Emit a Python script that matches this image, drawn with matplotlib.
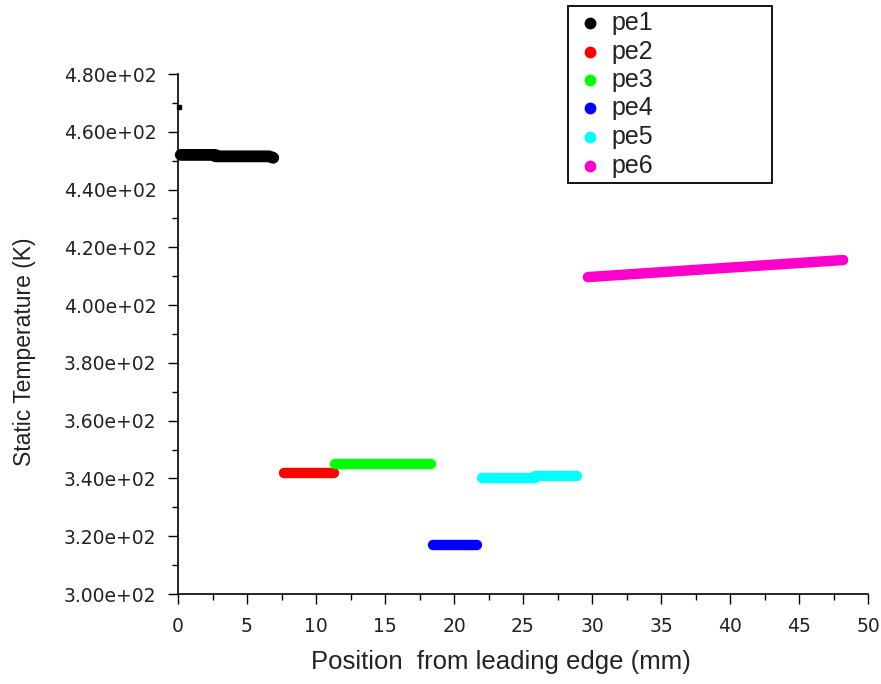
import matplotlib
matplotlib.use("Agg")
import matplotlib.pyplot as plt
from matplotlib.lines import Line2D
from matplotlib.patches import Rectangle
from matplotlib.ticker import MultipleLocator, FuncFormatter

plt.rcParams['font.family'] = ['Liberation Sans', 'DejaVu Sans']

series_names = ["pe1", "pe2", "pe3", "pe4", "pe5", "pe6"]
series_colors = ["#000000", "#ff0000", "#00ff00", "#0000ff", "#00ffff", "#ff00cc"]

pe1_x = [0.2, 2.7, 2.7, 6.6, 6.9]
pe1_y = [452.0, 452.0, 451.5, 451.5, 451.0]
pe2_x = [7.7, 11.3]
pe2_y = [341.9, 341.9]
pe3_x = [11.4, 18.3]
pe3_y = [345.0, 345.0]
pe4_x = [18.5, 21.7]
pe4_y = [317.0, 317.0]
pe5_x = [22.0, 25.9, 25.9, 28.9]
pe5_y = [340.2, 340.2, 340.8, 340.8]
pe6_x = [29.7, 48.2]
pe6_y = [409.7, 415.6]
stray_x = [0.05]
stray_y = [468.5]

xs = [pe1_x, pe2_x, pe3_x, pe4_x, pe5_x, pe6_x]
ys = [pe1_y, pe2_y, pe3_y, pe4_y, pe5_y, pe6_y]

W, H = 881, 684
fig = plt.figure(figsize=(W/100, H/100), dpi=100)
ax = fig.add_axes([178/W, 1-594/H, 690/W, 520/H])

for x, y, c in zip(xs, ys, series_colors):
    lw = 8.5 if c == "#000000" else 7.5
    ax.plot(x, y, color=c, lw=lw, solid_capstyle='round', solid_joinstyle='round', clip_on=False)
ax.plot(stray_x, stray_y, marker='s', ms=3, color='black', ls='none', clip_on=False)

ax.set_xlim(0, 50)
ax.set_ylim(300, 480)
ax.xaxis.set_major_locator(MultipleLocator(5))
ax.xaxis.set_minor_locator(MultipleLocator(2.5))
ax.yaxis.set_major_locator(MultipleLocator(20))
ax.yaxis.set_minor_locator(MultipleLocator(10))
ax.yaxis.set_major_formatter(FuncFormatter(lambda v, p: "%.2fe+02" % (v / 100)))
ax.xaxis.set_major_formatter(FuncFormatter(lambda v, p: "%d" % v))

for s in ['top', 'right']:
    ax.spines[s].set_visible(False)
for s in ['left', 'bottom']:
    ax.spines[s].set_linewidth(1.2)

ax.tick_params(axis='both', which='major', direction='out', length=7.5, width=1, colors='black')
ax.tick_params(axis='both', which='minor', direction='out', length=4, width=1)
ax.tick_params(axis='x', which='major', pad=9)
ax.tick_params(axis='y', which='major', pad=8)
for lab in ax.get_xticklabels() + ax.get_yticklabels():
    lab.set_fontfamily('DejaVu Sans')
    lab.set_fontsize(13.5)
    lab.set_color('#222222')

ax.set_xlabel("Position  from leading edge (mm)", fontsize=18.5, color='#222222')
ax.set_ylabel("Static Temperature (K)", fontsize=16.5, color='#222222')
ax.xaxis.set_label_coords((501-178)/690, (594-650)/520)
ax.yaxis.set_label_coords((36-178)/690, (594-352)/520)

# legend box
fig.add_artist(Rectangle((568/W, 1-183/H), (772-568)/W, (183-6)/H, transform=fig.transFigure,
                         fill=False, edgecolor='black', lw=1.3))
row_y = [23, 52, 80, 108, 137, 166]
for name, c, ry in zip(series_names, series_colors, row_y):
    fig.add_artist(Line2D([590/W], [1-ry/H], marker='o', ms=7.5, color=c, ls='none',
                          transform=fig.transFigure))
    fig.text(611/W, 1-ry/H, name, fontsize=18, va='center', ha='left', color='#222222')

fig.savefig("out.png", dpi=100)
